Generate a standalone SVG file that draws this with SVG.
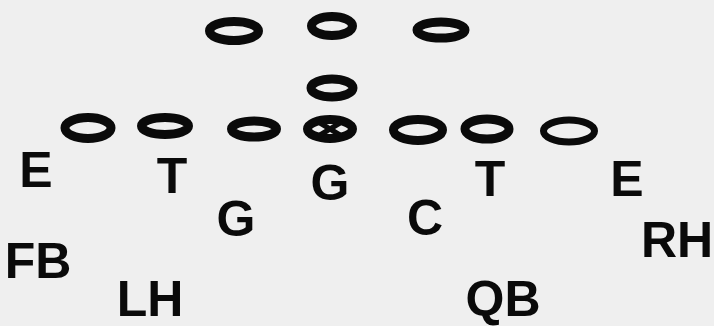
<svg xmlns="http://www.w3.org/2000/svg" width="714" height="326" viewBox="0 0 714 326">
<style>
.o{fill:none;stroke:#0a0a0a;stroke-width:9}
.x{stroke:#0a0a0a;stroke-width:5;stroke-linecap:round}
.t{font-family:"Liberation Sans",Arial,sans-serif;font-weight:bold;font-size:50px;fill:#0a0a0a;text-anchor:middle}
</style>
<rect width="714" height="326" fill="#efefef"/>
<g id="defense">
<g id="d1"><ellipse class="o" cx="234" cy="31" rx="24.5" ry="9.5"/></g>
<g id="d2"><ellipse class="o" cx="332" cy="26" rx="20.5" ry="9.5"/></g>
<g id="d3"><ellipse class="o" cx="441" cy="30" rx="24" ry="8"/></g>
<g id="d4"><ellipse class="o" cx="332" cy="88" rx="21" ry="9"/></g>
<g id="d5"><ellipse class="o" cx="88" cy="128" rx="23" ry="10.5"/></g>
<g id="d6"><ellipse class="o" cx="165" cy="126" rx="23.5" ry="8.5"/></g>
<g id="d7"><ellipse class="o" cx="254" cy="129" rx="22.5" ry="8"/></g>
<g id="d8"><ellipse class="o" cx="330" cy="129" rx="22.5" ry="9.5"/><line class="x" x1="320" y1="123" x2="340" y2="135"/><line class="x" x1="340" y1="123" x2="320" y2="135"/></g>
<g id="d9"><ellipse class="o" cx="418" cy="130" rx="24.5" ry="10.5"/></g>
<g id="d10"><ellipse class="o" cx="487" cy="129" rx="22" ry="10"/></g>
<g id="d11"><ellipse class="o" cx="569" cy="131" rx="25.5" ry="11" style="stroke-width:7"/></g>
</g>
<g id="connectors"/>
<g id="offense">
<g id="LE"><text class="t" x="36" y="187">E</text></g>
<g id="LT"><text class="t" x="172" y="193">T</text></g>
<g id="RG"><text class="t" x="330" y="200">G</text></g>
<g id="RT"><text class="t" x="490" y="196">T</text></g>
<g id="RE"><text class="t" x="627" y="196">E</text></g>
<g id="LG"><text class="t" x="236" y="236">G</text></g>
<g id="C"><text class="t" x="425" y="235">C</text></g>
<g id="RH"><text class="t" x="677" y="257">RH</text></g>
<g id="FB"><text class="t" x="38" y="278">FB</text></g>
<g id="LH"><text class="t" x="150" y="316">LH</text></g>
<g id="QB"><text class="t" x="503" y="316">QB</text></g>
</g>
</svg>
